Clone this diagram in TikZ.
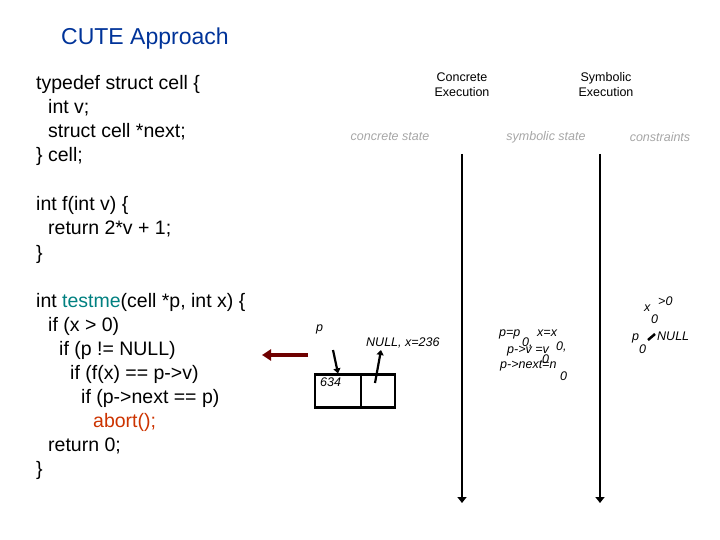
\documentclass[tikz,border=0pt]{standalone}
\usepackage{fontspec}
\setmainfont{Liberation Sans}
\usetikzlibrary{arrows.meta}
\begin{document}
\begin{tikzpicture}[x=1pt,y=-1pt,
  code/.style={anchor=base west,inner sep=0pt,font=\fontsize{19.5}{22}\selectfont},
  hdr/.style={align=center,font=\fontsize{12.5}{15}\selectfont},
  lbl/.style={text=black!35,font=\fontsize{12.5}{14}\itshape},
  sm/.style={anchor=base west,inner sep=0pt,font=\fontsize{12.5}{14}\itshape},
  tl/.style={line width=2.2pt,-{Triangle[length=6pt,width=9pt]}}]
\useasboundingbox (0,0) rectangle (720,540);
\node[anchor=base west,inner sep=0pt,font=\fontsize{23}{26}\selectfont,text={rgb,255:red,0;green,51;blue,153}] (title) at (61,45) {CUTE Approach};
\node[code] (c1) at (36,90) {typedef struct cell \{};
\node[code] (c2) at (48,114) {int v;};
\node[code] (c3) at (48,138) {struct cell *next;};
\node[code] (c4) at (36,162) {\} cell;};
\node[code] (c5) at (36,211) {int f(int v) \{};
\node[code] (c6) at (48,235) {return 2*v + 1;};
\node[code] (c7) at (36,259) {\}};
\node[code] (c8) at (36,307) {int \textcolor[rgb]{0,0.5,0.5}{testme}(cell *p, int x) \{};
\node[code] (c9) at (48,331) {if (x > 0)};
\node[code] (c10) at (59,355) {if (p != NULL)};
\node[code] (c11) at (70,379) {if (f(x) == p->v)};
\node[code] (c12) at (81,403) {if (p->next == p)};
\node[code,text={rgb,255:red,204;green,51;blue,0}] (c13) at (93,427) {abort();};
\node[code] (c14) at (48,451) {return 0;};
\node[code] (c15) at (36,475) {\}};
\node[hdr] (h1) at (462,85) {Concrete\\Execution};
\node[hdr] (h2) at (606,85) {Symbolic\\Execution};
\node[lbl] (l1) at (390,137) {concrete state};
\node[lbl] (l2) at (546,137) {symbolic state};
\node[lbl] (l3) at (660,137) {constraints};
\coordinate (v1a) at (462,154); \coordinate (v1b) at (462,503);
\coordinate (v2a) at (600,154); \coordinate (v2b) at (600,503);
\draw[tl] (v1a) -- (v1b);
\draw[tl] (v2a) -- (v2b);
\coordinate (ra) at (308,355); \coordinate (rb) at (262,355);
\draw[line width=4.5pt,draw={rgb,255:red,110;green,0;blue,0},-{Triangle[length=9pt,width=11pt]}] (ra) -- (rb);
% memory cell
\node[draw,line width=2.2pt,minimum width=46pt,minimum height=33pt,inner sep=0pt] (m1) at (338,391) {};
\node[draw,line width=2.2pt,minimum width=34pt,minimum height=33pt,inner sep=0pt] (m2) at (378,391) {};
\node[sm] (p) at (316,331) {p};
\node[sm] (v634) at (320,386) {634};
\node[sm] (nl) at (366,346) {NULL, x=236};
\coordinate (pa) at (333,350);
\coordinate (na) at (375,383);
\draw[line width=2.2pt,-{Triangle[length=5pt,width=7pt]}] (pa) -- (m1.north);
\draw[line width=2.2pt,-{Triangle[length=5pt,width=7pt]}] (na) -- (381,350) coordinate (nb);
% symbolic state
\node[sm] (s1) at (499,336) {p=p};
\node[sm] (s1x) at (537,336) {x=x};
\node[sm] (s1a) at (522,346) {0,};
\node[sm] (s1b) at (556,350) {0,};
\node[sm] (s2) at (507,353) {p->v =v};
\node[sm] (s2a) at (542,363) {0};
\node[sm] (s3) at (500,368) {p->next=n};
\node[sm] (s3a) at (560,380) {0};
% constraints
\node[sm] (k1) at (644,311) {x};
\node[sm] (k1b) at (658,305) {>0};
\node[sm] (k1a) at (651,323) {0};
\node[sm] (k2) at (632,340) {p};
\node[sm] (k2a) at (639,353) {0};
\node[sm] (k2b) at (657,340) {NULL};
\draw[line width=2.5pt] (648,340) -- (655,334);
\end{tikzpicture}
\end{document}
